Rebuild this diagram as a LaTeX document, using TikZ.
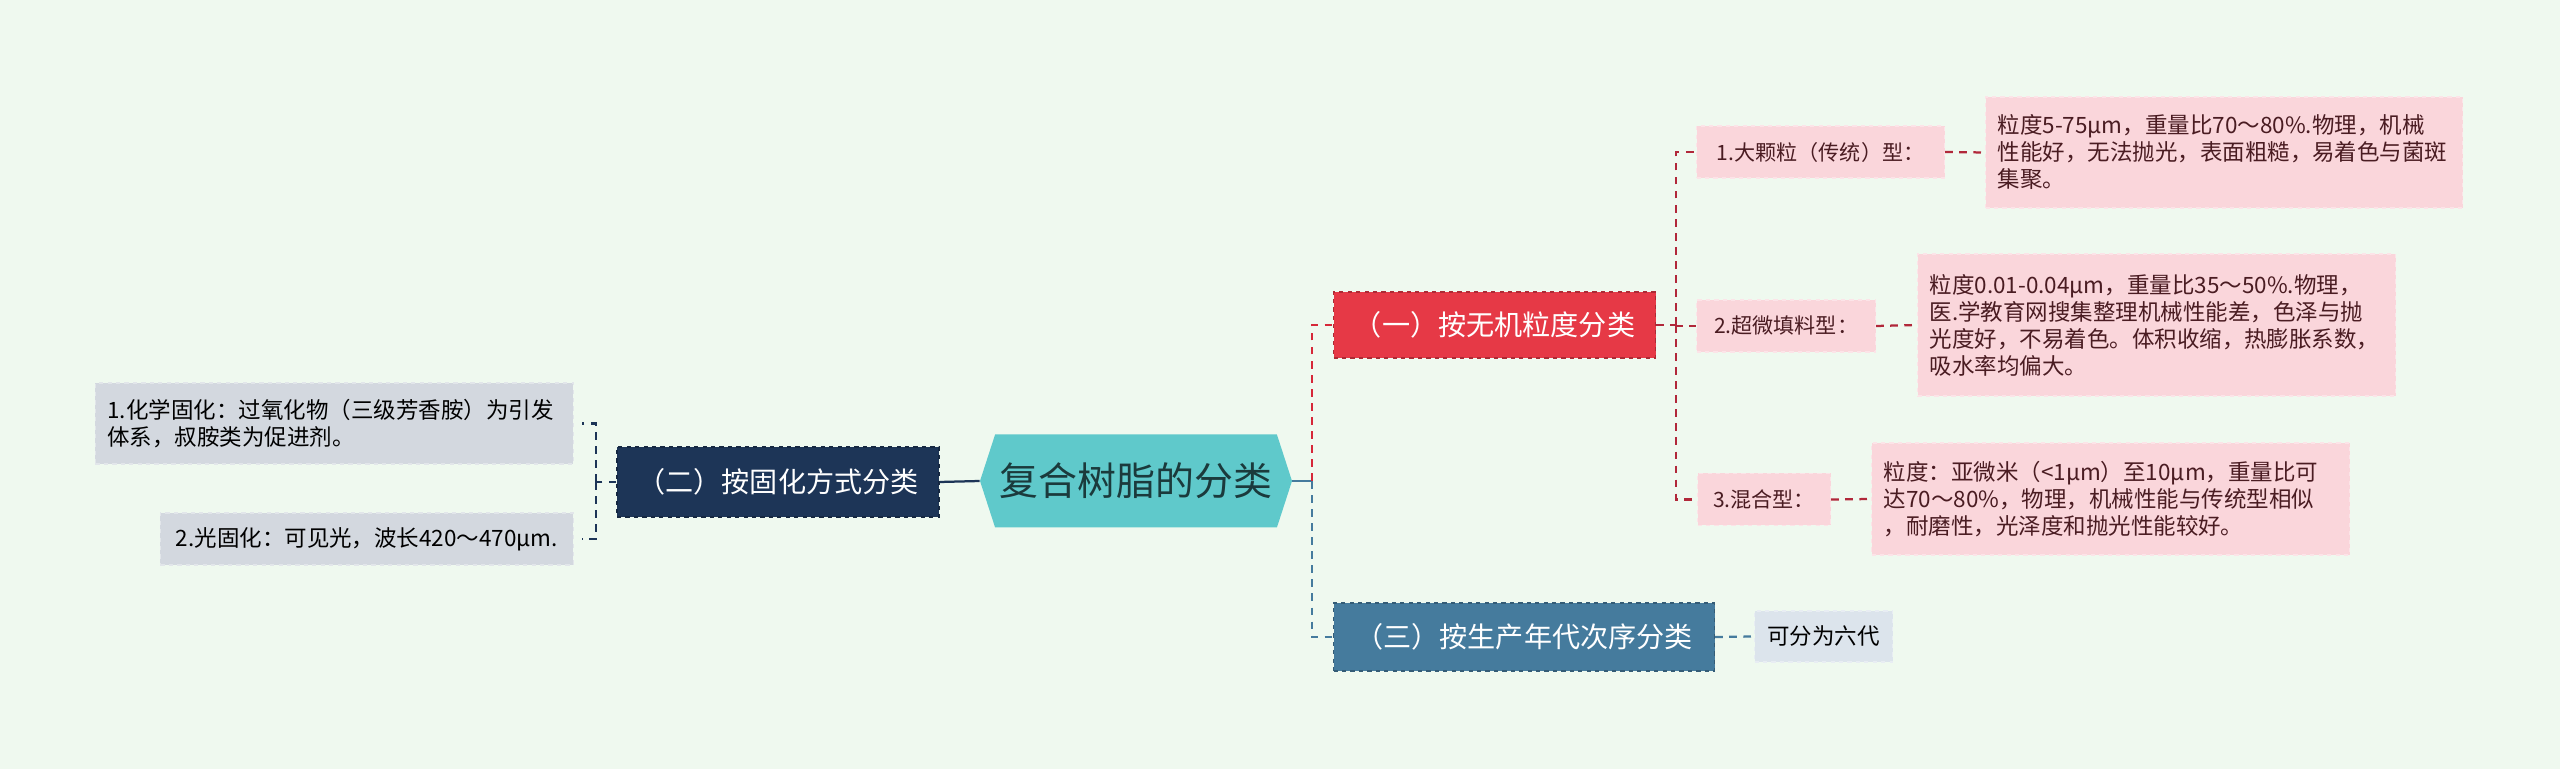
\documentclass[tikz,border=0pt]{standalone}
\usepackage{fontspec}
\setmainfont{Noto Sans CJK SC}
\usepackage{xcolor}
\usetikzlibrary{shapes.symbols}
\definecolor{bgmint}{HTML}{EFF9EF}
\definecolor{rootteal}{HTML}{5FC9CB}
\definecolor{roottext}{HTML}{1B3A3C}
\definecolor{redbranch}{HTML}{E63946}
\definecolor{navybranch}{HTML}{1D3557}
\definecolor{bluebranch}{HTML}{457B9D}
\definecolor{pinkleaf}{HTML}{FAD6DB}
\definecolor{pinktext}{HTML}{4A1C22}
\definecolor{greyleaf}{HTML}{D3D8DF}
\definecolor{paleleaf}{HTML}{DCE4EC}
\definecolor{redline}{HTML}{D62839}
\definecolor{darkredline}{HTML}{B1283A}

\begin{document}
\begin{tikzpicture}[
  rootbox/.style={shape=signal, signal to=west and east, signal pointer angle=144,
    fill=rootteal, text=roottext, font=\fontsize{27.7}{33}\selectfont,
    minimum width=7.8cm, minimum height=2.325cm, inner sep=0pt},
  branchbox/.style={fill=#1, draw=#1!75!black, dashed, line width=0.8pt, text=white,
    font=\fontsize{20}{24}\selectfont, inner sep=0pt},
  leafbox/.style={fill=#1, draw=white!35!#1, dashed, line width=0.8pt,
    font=\fontsize{16}{19.2}\selectfont, inner xsep=0.3cm, inner ysep=0pt, align=left},
  subbox/.style={fill=pinkleaf, draw=white!35!pinkleaf, dashed, line width=0.8pt, text=pinktext,
    font=\fontsize{15}{18}\selectfont, inner sep=0pt, minimum height=1.3cm},
  link/.style={line width=1.6pt, dash pattern=on 5.5pt off 4.5pt}
]
\fill[bgmint] (0,0) rectangle (64,19.225);

\node[rootbox] (root) at (28.4,7.2) {复合树脂的分类};

\node[branchbox=redbranch, anchor=west, minimum width=8.05cm, minimum height=1.65cm] (inorg) at (33.325,11.1) {（一）按无机粒度分类};
\node[branchbox=navybranch, minimum width=8.05cm, minimum height=1.75cm] (cure) at (19.45,7.175) {（二）按固化方式分类};
\node[branchbox=bluebranch, anchor=west, minimum width=9.525cm, minimum height=1.7cm] (gener) at (33.325,3.3) {（三）按生产年代次序分类};

\node[subbox, anchor=west, minimum width=6.2cm] (big) at (42.4,15.425) {1.大颗粒（传统）型：};
\node[subbox, anchor=west, minimum width=4.475cm] (fine) at (42.4,11.075) {2.超微填料型：};
\node[subbox, anchor=west, minimum width=3.325cm] (mixed) at (42.425,6.7375) {3.混合型：};

\node[leafbox=pinkleaf, text=pinktext, anchor=west, text width=11.325cm, minimum height=2.775cm] (bigtext) at (49.625,15.4125)
  {粒度5-75μm，重量比70～80\%.物理，机械\\性能好，无法抛光，表面粗糙，易着色与菌斑\\集聚。};
\node[leafbox=pinkleaf, text=pinktext, anchor=west, text width=11.35cm, minimum height=3.55cm] (finetext) at (47.925,11.1)
  {粒度0.01-0.04μm，重量比35～50\%.物理，\\医.学教育网搜集整理机械性能差，色泽与抛\\光度好，不易着色。体积收缩，热膨胀系数，\\吸水率均偏大。};
\node[leafbox=pinkleaf, text=pinktext, anchor=west, text width=11.35cm, minimum height=2.8cm] (mixedtext) at (46.775,6.75)
  {粒度：亚微米（<1μm）至10μm，重量比可\\达70～80\%，物理，机械性能与传统型相似\\，耐磨性，光泽度和抛光性能较好。};

\node[leafbox=paleleaf, anchor=west, inner xsep=0pt, minimum width=3.45cm, minimum height=1.275cm, align=center] (six) at (43.85,3.3125) {可分为六代};

\node[leafbox=greyleaf, anchor=east, text width=11.35cm, minimum height=2.025cm] (chem) at (14.35,8.6375)
  {1.化学固化：过氧化物（三级芳香胺）为引发\\体系，叔胺类为促进剂。};
\node[leafbox=greyleaf, anchor=east, inner xsep=0pt, minimum width=10.325cm, minimum height=1.3cm, align=center] (light) at (14.35,5.75)
  {2.光固化：可见光，波长420～470μm.};

\coordinate (rj) at (32.8,7.2);
\coordinate (sj) at (41.9,11.1);
\coordinate (lj) at (14.9,7.175);

\draw[bluebranch, line width=1.6pt] (root.east) -- (rj);
\draw[link, redline] (rj) |- (inorg.west);
\draw[link, bluebranch] (rj) |- (gener.west);
\draw[link, bluebranch] (gener.east) -- (six.west);

\draw[link, darkredline] (inorg.east) -- (sj);
\draw[link, darkredline] (sj) |- (big.west);
\draw[link, darkredline] (sj) |- (fine.west);
\draw[link, darkredline] (sj) |- (mixed.west);
\draw[link, darkredline] (big.east) -- (bigtext.west);
\draw[link, darkredline] (fine.east) -- (finetext.west);
\draw[link, darkredline] (mixed.east) -- (mixedtext.west);

\draw[navybranch, line width=1.6pt] (root.west) -- (cure.east);
\draw[link, navybranch] (cure.west) -- (lj);
\draw[link, navybranch] (lj) |- ([xshift=0.2cm]chem.east);
\draw[link, navybranch] (lj) |- ([xshift=0.2cm]light.east);
\end{tikzpicture}
\end{document}
